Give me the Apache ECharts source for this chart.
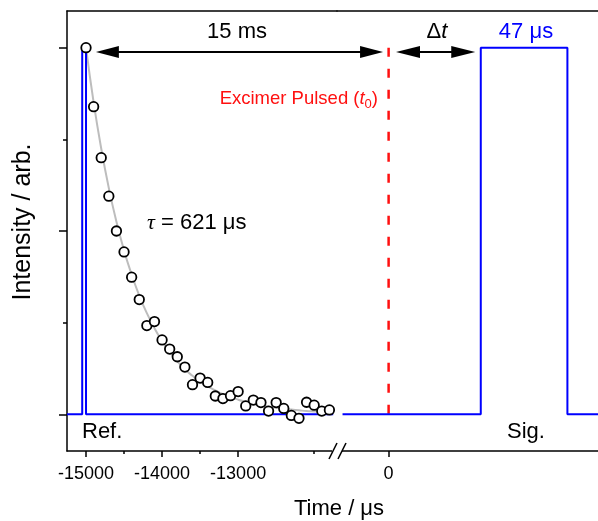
<!DOCTYPE html>
<html><head><meta charset="utf-8">
<script src="https://cdn.jsdelivr.net/npm/echarts@6/dist/echarts.min.js"></script>
<style>html,body{margin:0;padding:0;background:#fff}#c{width:598px;height:521px}</style>
</head><body><div id="c"></div>
<script>
// ---- data ----
const decayTimes = [-15000,-14900,-14800,-14700,-14600,-14500,-14400,-14300,-14200,-14100,-14000,-13900,-13800,-13700,-13600,-13500,-13400,-13300,-13200,-13100,-13000,-12900,-12800,-12700,-12600,-12500,-12400,-12300,-12200,-12100,-12000,-11900,-11800];
const decayValues = [1.000,0.839,0.700,0.595,0.500,0.443,0.374,0.313,0.242,0.253,0.203,0.178,0.157,0.129,0.081,0.099,0.087,0.050,0.043,0.051,0.062,0.023,0.039,0.032,0.009,0.032,0.016,-0.003,-0.011,0.033,0.025,0.009,0.012];
const fitValues = [1.000,0.851,0.725,0.617,0.525,0.447,0.381,0.324,0.276,0.235,0.200,0.170,0.145,0.123,0.105,0.089,0.076,0.065,0.055,0.047,0.040,0.034,0.029,0.025,0.021,0.018,0.015,0.013,0.011,0.009,0.008,0.007,0.006];
const refPulseT = [-15250,-15050,-15050,-15000,-15000,-11750];
const refPulseV = [0,0,1,1,0,0];
const sigPulseT = [-25,50,50,97,97,114];
const sigPulseV = [0,0,1,1,0,0];
const excimerT = [0,0];
const excimerV = [1,0];
const leftMajorTicks = [-15000,-14000,-13000];
const leftMinorTicks = [-14500,-13500,-12000];
const rightMajorTicks = [0];
const yMajorTicks = [0,0.5,1];
const yMinorTicks = [0.25,0.75];

const FONT = '"Liberation Sans", Arial, Helvetica, sans-serif';
const zip = (a,b) => a.map((v,i)=>[v,b[i]]);
const chart = echarts.init(document.getElementById('c'), null, {renderer:'canvas'});
const axisLineStyle = {color:'#000', width:1.5};
const YMIN=-0.1, YMAX=1.1;
const plain = v => String(v);

chart.setOption({
  animation:false,
  backgroundColor:'#fff',
  grid:[
    {left:67, top:11, width:270, height:440},
    {left:337, top:11, width:261, height:440}
  ],
  xAxis:[
    {gridIndex:0, type:'value', position:'bottom', min:-15250, max:-11700,
     axisLine:{show:true, onZero:false, lineStyle:axisLineStyle},
     axisTick:{show:true, customValues:leftMajorTicks, length:6, lineStyle:{color:'#000',width:1.5}},
     axisLabel:{show:true, customValues:leftMajorTicks, formatter:plain, fontSize:18, fontFamily:FONT, color:'#000', margin:14},
     splitLine:{show:false}},
    {gridIndex:0, type:'value', position:'bottom', min:-15250, max:-11700,
     axisLine:{show:false, onZero:false},
     axisTick:{show:true, customValues:leftMinorTicks, length:3, lineStyle:{color:'#000',width:1.5}},
     axisLabel:{show:false}, splitLine:{show:false}},
    {gridIndex:0, type:'value', position:'top', min:-15250, max:-11700,
     axisLine:{show:true, onZero:false, lineStyle:axisLineStyle}, axisTick:{show:false}, axisLabel:{show:false}, splitLine:{show:false}},
    {gridIndex:1, type:'value', position:'bottom', min:-28, max:113.6,
     axisLine:{show:true, onZero:false, lineStyle:axisLineStyle},
     axisTick:{show:true, customValues:rightMajorTicks, length:6, lineStyle:{color:'#000',width:1.5}},
     axisLabel:{show:true, customValues:rightMajorTicks, formatter:plain, fontSize:18, fontFamily:FONT, color:'#000', margin:14},
     splitLine:{show:false}},
    {gridIndex:1, type:'value', position:'top', min:-28, max:113.6,
     axisLine:{show:true, onZero:false, lineStyle:axisLineStyle}, axisTick:{show:false}, axisLabel:{show:false}, splitLine:{show:false}}
  ],
  yAxis:[
    {gridIndex:0, type:'value', position:'left', min:YMIN, max:YMAX,
     axisLine:{show:true, onZero:false, lineStyle:axisLineStyle},
     axisTick:{show:true, customValues:yMajorTicks, length:8, lineStyle:{color:'#000',width:1.5}},
     axisLabel:{show:false}, splitLine:{show:false}},
    {gridIndex:0, type:'value', position:'left', min:YMIN, max:YMAX,
     axisLine:{show:false, onZero:false},
     axisTick:{show:true, customValues:yMinorTicks, length:4, lineStyle:{color:'#000',width:1.5}},
     axisLabel:{show:false}, splitLine:{show:false}},
    {gridIndex:1, type:'value', show:false, min:YMIN, max:YMAX, axisLine:{onZero:false}, splitLine:{show:false}}
  ],
  series:[
    {type:'line', xAxisIndex:0, yAxisIndex:0, data:zip(decayTimes, fitValues), smooth:true,
     symbol:'none', lineStyle:{color:'#bdbdbd', width:2}, z:2, silent:true},
    {type:'line', xAxisIndex:0, yAxisIndex:0, data:zip(refPulseT, refPulseV),
     symbol:'none', lineStyle:{color:'#0000ff', width:2}, z:3, silent:true},
    {type:'scatter', xAxisIndex:0, yAxisIndex:0, data:zip(decayTimes, decayValues),
     symbol:'circle', symbolSize:9.5,
     itemStyle:{color:'#ffffff', borderColor:'#000', borderWidth:1.8, opacity:1}, z:4, silent:true},
    {type:'line', xAxisIndex:3, yAxisIndex:2, data:zip(excimerT, excimerV),
     symbol:'none', lineStyle:{color:'#ff1010', width:2.5, type:[9,12]}, z:2, silent:true},
    {type:'line', xAxisIndex:3, yAxisIndex:2, data:zip(sigPulseT, sigPulseV),
     symbol:'none', lineStyle:{color:'#0000ff', width:2}, z:3, silent:true}
  ]
});

// ---- annotations ----
function px(axisIdx, yIdx, x, y){ return chart.convertToPixel({xAxisIndex:axisIdx, yAxisIndex:yIdx}, [x,y]); }
function arrow(xa, xb, y, hl, hh){
  return [
    {type:'line', shape:{x1:xa+hl-2, y1:y, x2:xb-hl+2, y2:y}, style:{stroke:'#000', lineWidth:2}, z:100},
    {type:'polygon', shape:{points:[[xa,y],[xa+hl,y-hh/2],[xa+hl,y+hh/2]]}, style:{fill:'#000'}, z:100},
    {type:'polygon', shape:{points:[[xb,y],[xb-hl,y-hh/2],[xb-hl,y+hh/2]]}, style:{fill:'#000'}, z:100}
  ];
}
const yArrow = px(0,0,-15000,0.988)[1];
const a1L = px(0,0,-14870,0)[0];
const a1R = px(3,2,-3,0)[0];
const a2L = px(3,2,4,0)[0];
const a2R = px(3,2,47,0)[0];
const axisY = px(0,0,-15000,YMIN)[1];

const g = [];
g.push(...arrow(a1L, a1R, yArrow, 23, 12));
g.push(...arrow(a2L, a2R, yArrow, 24, 12));
// axis break
g.push({type:'rect', shape:{x:332, y:axisY-3, width:10, height:6}, style:{fill:'#fff'}, z:100});
g.push({type:'line', shape:{x1:329, y1:axisY+8, x2:337, y2:axisY-8}, style:{stroke:'#000', lineWidth:1.5}, z:101});
g.push({type:'line', shape:{x1:338, y1:axisY+8, x2:346, y2:axisY-8}, style:{stroke:'#000', lineWidth:1.5}, z:101});
// texts
const T = (x,y,text,opts) => Object.assign({type:'text', x:x, y:y, z:110,
  style:Object.assign({text:text, fontSize:22, fontFamily:FONT, fill:'#000', align:'center', verticalAlign:'middle'}, opts||{})});
g.push(T(237,32,'15 ms'));
g.push(T(437,32,'Δ{i|t}',{rich:{i:{fontStyle:'italic', fontSize:22, fontFamily:FONT}}}));
g.push(T(526,32,'47 μs',{fill:'#0000ff'}));
g.push(T(378,99,'Excimer Pulsed ({i|t}{s|0})',{fontSize:18.5, fill:'#ff1010', align:'right',
  rich:{i:{fontStyle:'italic', fontSize:18.5, fontFamily:FONT, fill:'#ff1010', lineHeight:24},
        s:{fontSize:13, fontFamily:FONT, fill:'#ff1010', lineHeight:13, verticalAlign:'bottom'}}}));
g.push(T(147,223,'{t|τ} = 621 μs',{align:'left', rich:{t:{fontStyle:'italic', fontFamily:'"Liberation Serif", serif', fontSize:22}}}));
g.push(T(82,432,'Ref.',{align:'left'}));
g.push(T(507,432,'Sig.',{align:'left'}));
g.push(T(339,509,'Time / μs'));
g.push(Object.assign(T(23,222,'Intensity / arb.',{fontSize:25}),{rotation:Math.PI/2}));
chart.setOption({graphic:g});
</script></body></html>
